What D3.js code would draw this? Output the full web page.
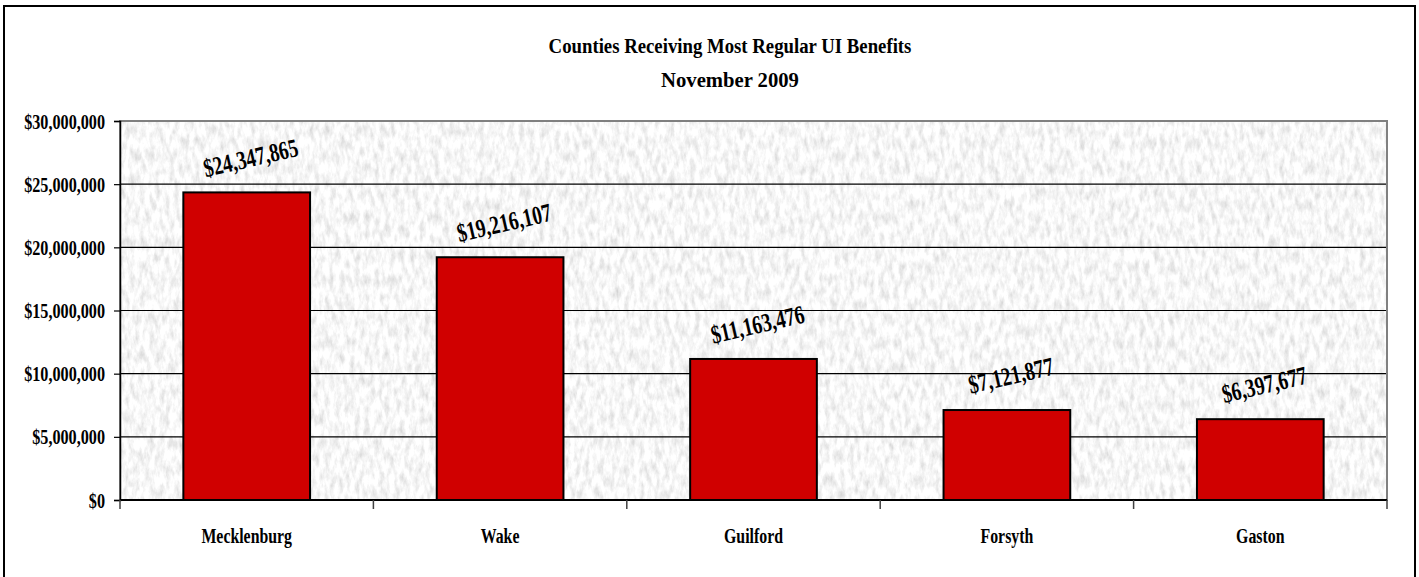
<!DOCTYPE html>
<html>
<head>
<meta charset="utf-8">
<script src="https://cdn.jsdelivr.net/npm/d3@7"></script>
<style>
  html, body { margin: 0; padding: 0; background: #fff; }
  svg { display: block; }
  text { font-family: "Liberation Serif", "Times New Roman", serif; font-weight: bold; fill: #000; }
</style>
</head>
<body>
<svg id="chart" width="1419" height="577"></svg>
<script>
const categories = ["Mecklenburg", "Wake", "Guilford", "Forsyth", "Gaston"];
const values = [24347865, 19216107, 11163476, 7121877, 6397677];
const yTicks = [0, 5000000, 10000000, 15000000, 20000000, 25000000, 30000000];
const titleLines = ["Counties Receiving Most Regular UI Benefits", "November 2009"];

const svg = d3.select("#chart");
const plot = { left: 120, right: 1387, top: 121, bottom: 500 };

const defs = svg.append("defs");
const f = defs.append("filter").attr("id", "granite")
  .attr("filterUnits", "userSpaceOnUse")
  .attr("x", plot.left).attr("y", plot.top)
  .attr("width", plot.right - plot.left).attr("height", plot.bottom - plot.top);
f.append("feTurbulence").attr("type", "fractalNoise")
  .attr("baseFrequency", "0.2 0.08").attr("numOctaves", 4).attr("seed", 7).attr("result", "n");
f.append("feColorMatrix").attr("type", "matrix")
  .attr("values", "0.6 0 0 0 0.63  0.6 0 0 0 0.63  0.6 0 0 0 0.63  0 0 0 0 1");

// outer border
svg.append("rect").attr("x", 4).attr("y", 6).attr("width", 1411).attr("height", 600)
  .attr("fill", "#fff").attr("stroke", "#000").attr("stroke-width", 2);

const x = d3.scaleBand().domain(categories).range([plot.left, plot.right])
  .paddingInner(0.5).paddingOuter(0.25);
const y = d3.scaleLinear().domain([0, 30000000]).range([plot.bottom, plot.top]);
const fmt = d3.format("$,");

// textured plot background
svg.append("rect").attr("x", plot.left).attr("y", plot.top)
  .attr("width", plot.right - plot.left).attr("height", plot.bottom - plot.top)
  .attr("fill", "#ececec").attr("filter", "url(#granite)");

// gridlines
svg.append("g").selectAll("line").data(yTicks.filter(d => d > 0 && d < 30000000)).join("line")
  .attr("x1", plot.left).attr("x2", plot.right)
  .attr("y1", d => y(d)).attr("y2", d => y(d))
  .attr("stroke", "#000").attr("stroke-width", 1.2);

// plot frame (gray)
svg.append("rect").attr("x", plot.left).attr("y", plot.top)
  .attr("width", plot.right - plot.left).attr("height", plot.bottom - plot.top)
  .attr("fill", "none").attr("stroke", "#808080").attr("stroke-width", 2);

// bars
svg.append("g").selectAll("rect").data(values).join("rect")
  .attr("x", (d, i) => x(categories[i]))
  .attr("y", d => y(d))
  .attr("width", x.bandwidth())
  .attr("height", d => y(0) - y(d))
  .attr("fill", "#d00000").attr("stroke", "#000").attr("stroke-width", 2);

// y axis
const yAxis = svg.append("g").attr("transform", `translate(${plot.left},0)`)
  .call(d3.axisLeft(y).tickValues(yTicks).tickFormat(fmt).tickSize(6).tickPadding(9));
yAxis.select(".domain").attr("stroke", "#000").attr("stroke-width", 1.5);
yAxis.selectAll(".tick line").attr("stroke", "#000").attr("stroke-width", 1.2);
yAxis.selectAll(".tick text").attr("font-size", 21).attr("font-family", null)
  .each(function () {
    const t = d3.select(this);
    const xx = +t.attr("x");
    t.attr("x", 0).attr("transform", `translate(${xx},0) scale(0.77,1)`).attr("dy", "0.34em");
  });

// x axis line at zero
svg.append("line").attr("x1", plot.left).attr("x2", plot.right)
  .attr("y1", y(0)).attr("y2", y(0)).attr("stroke", "#000").attr("stroke-width", 2);

// x boundary ticks
const step = x.step();
const bounds = d3.range(categories.length + 1).map(i => plot.left + i * step);
svg.append("g").selectAll("line").data(bounds).join("line")
  .attr("x1", d => d).attr("x2", d => d)
  .attr("y1", y(0)).attr("y2", y(0) + 9)
  .attr("stroke", "#404040").attr("stroke-width", 1.5);

// category labels
svg.append("g").selectAll("text").data(categories).join("text")
  .attr("text-anchor", "middle").attr("font-size", 22)
  .attr("transform", d => `translate(${x(d) + x.bandwidth() / 2},543) scale(0.72,1)`)
  .text(d => d);

// value labels
svg.append("g").selectAll("text").data(values).join("text")
  .attr("text-anchor", "middle").attr("font-size", 26)
  .attr("transform", (d, i) => `translate(${x(categories[i]) + x.bandwidth() / 2 + 6},${y(d) - 26}) rotate(-13) scale(0.74,1)`)
  .text(d => fmt(d));

// title
const titleW = [363, 138];
const titleY = [53, 87];
svg.append("g").selectAll("text").data(titleLines).join("text")
  .attr("text-anchor", "middle").attr("font-size", 22)
  .text(d => d)
  .each(function (d, i) {
    const len = this.getComputedTextLength();
    d3.select(this).attr("transform", `translate(730,${titleY[i]}) scale(${titleW[i] / len},1)`);
  });
</script>
</body>
</html>
